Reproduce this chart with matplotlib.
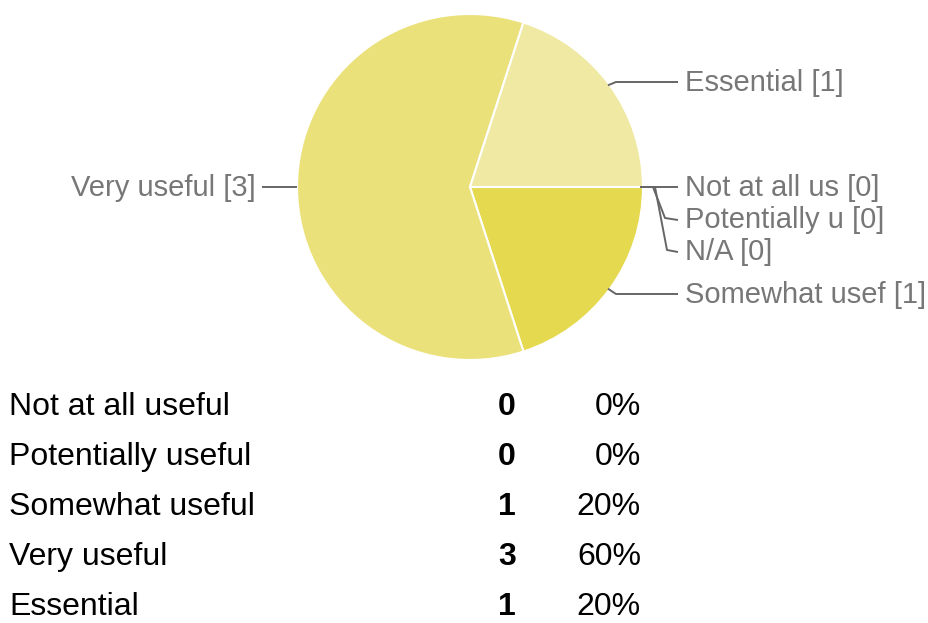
import numpy as np
import matplotlib.pyplot as plt

# answers as listed in the table below the pie
categories = ["Not at all useful", "Potentially useful", "Somewhat useful",
              "Very useful", "Essential"]
counts = [0, 0, 1, 3, 1]
percents = ["0%", "0%", "20%", "60%", "20%"]

# pie order (clockwise from 3 o'clock) and the chart's truncated labels
pie_names = ["Not at all us", "Potentially u", "N/A", "Somewhat usef",
             "Very useful", "Essential"]
pie_counts = [0, 0, 0, 1, 3, 1]
pie_colors = ["#e0d23c", "#e3d545", "#e6da5c", "#e5d94f", "#ebe17a", "#f0e9a3"]

W, H = 929, 623
fig = plt.figure(figsize=(W / 100, H / 100), dpi=100)
ax = fig.add_axes([0, 0, 1, 1])

cx, cy, r = 470, H - 187, 173
wedges, _ = ax.pie(pie_counts, colors=pie_colors, startangle=0,
                   counterclock=False, center=(cx, cy), radius=r,
                   wedgeprops=dict(edgecolor="white", linewidth=1.5))
ax.set_xlim(0, W)
ax.set_ylim(0, H)
ax.set_aspect("equal")
ax.axis("off")

lab_font = dict(family="Liberation Sans", fontsize=21, color="#777777")
line_kw = dict(color="#666666", lw=1.4, solid_capstyle="butt")

# label rows (pixel y from top) for each pie entry
label_y = {"Not at all us": 188, "Potentially u": 220, "N/A": 252,
           "Somewhat usef": 295, "Very useful": 188, "Essential": 83}

zero_i = 0
for w, name, n in zip(wedges, pie_names, pie_counts):
    ang = np.deg2rad((w.theta1 + w.theta2) / 2)
    sx, sy = cx + r * np.cos(ang), cy + r * np.sin(ang)
    ty = H - label_y[name]
    txt = f"{name} [{n}]"
    if np.cos(ang) < -0.5:
        ax.plot([sx, sx - 35], [sy, sy], **line_kw)
        ax.text(sx - 41, ty, txt, ha="right", va="center", **lab_font)
        continue
    if n == 0:
        if zero_i == 0:
            xs, ys = [sx - 3, 678], [sy, sy]
        else:
            bx = sx + 8 + 2 * zero_i
            xs = [sx - 3, bx, bx + 12, 678]
            ys = [sy, sy, ty + 2, ty]
        zero_i += 1
    else:
        xs = [sx - 2, sx + 6, 678]
        ys = [sy, ty + 1, ty + 1]
    ax.plot(xs, ys, **line_kw)
    ax.text(685, ty, txt, ha="left", va="center", **lab_font)

# summary table
tab_font = dict(family="Liberation Sans", fontsize=23, color="black")
for i, (cat, c, p) in enumerate(zip(categories, counts, percents)):
    y = H - (407 + 50 * i)
    ax.text(9, y, cat, ha="left", va="center", **tab_font)
    ax.text(507, y, str(c), ha="center", va="center", fontweight="bold",
            **tab_font)
    ax.text(641, y, p, ha="right", va="center", **tab_font)

fig.savefig("out.png", dpi=100, facecolor="white")
